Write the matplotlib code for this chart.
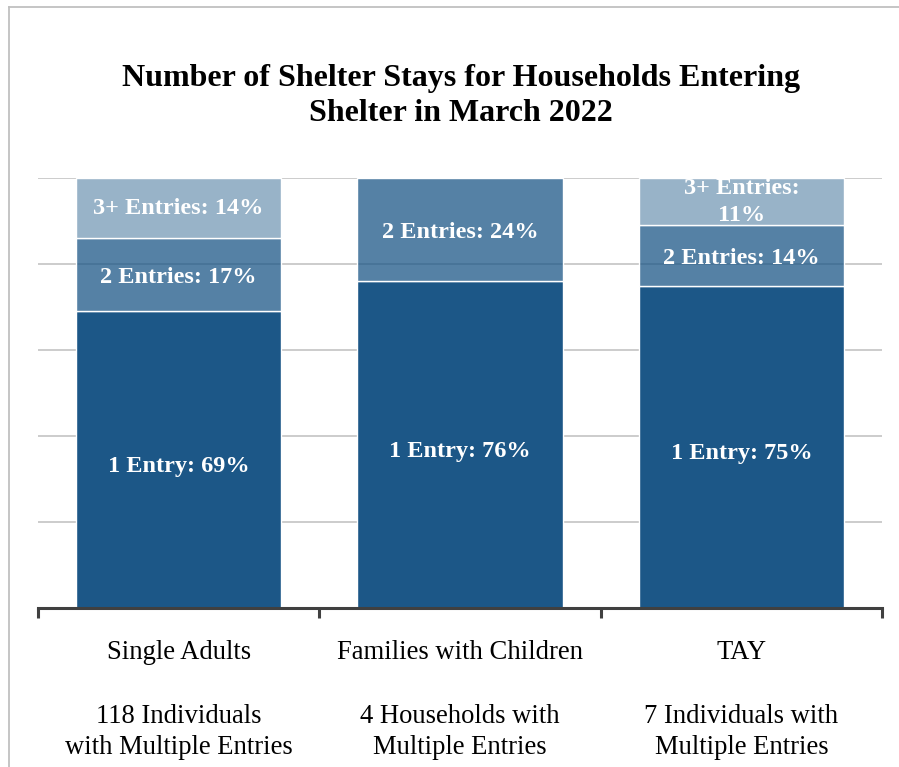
import matplotlib
matplotlib.use("Agg")
import matplotlib.pyplot as plt
from matplotlib.lines import Line2D
import numpy as np

plt.rcParams['font.family'] = ['Liberation Serif', 'DejaVu Serif']

categories = ["Single Adults\n\n118 Individuals\nwith Multiple Entries",
              "Families with Children\n\n4 Households with\nMultiple Entries",
              "TAY\n\n7 Individuals with\nMultiple Entries"]
one_entry = [69, 76, 75]
two_entries = [17, 24, 14]
three_plus = [14, 0, 11]
label_one = ["1 Entry: 69%", "1 Entry: 76%", "1 Entry: 75%"]
label_two = ["2 Entries: 17%", "2 Entries: 24%", "2 Entries: 14%"]
label_three = ["3+ Entries: 14%", "", "3+ Entries:\n11%"]

W, H = 899, 767
fig = plt.figure(figsize=(W / 100, H / 100), dpi=100)
ax = fig.add_axes([38 / W, 1 - 608 / H, (882 - 38) / W, (608 - 178) / H])

base = (28 / 255, 87 / 255, 135 / 255)
c1 = base + (1.0,)
c2 = base + (0.75,)
c3 = base + (0.45,)

x = np.arange(len(categories))
bw = 0.73
one = np.array(one_entry)
two = np.array(two_entries)
three = np.array(three_plus)

ax.bar(x, one, bw, color=c1, edgecolor='white', linewidth=1, zorder=2)
ax.bar(x, two, bw, bottom=one, color=c2, edgecolor='white', linewidth=1, zorder=2)
mask = three > 0
ax.bar(x[mask], three[mask], bw, bottom=(one + two)[mask], color=c3,
       edgecolor='white', linewidth=1, zorder=2)

tkw = dict(ha='center', va='center', color='white', fontweight='bold',
           fontsize=17.5, zorder=3, linespacing=1.4)
for i in range(len(x)):
    ax.text(x[i], one[i] / 2 - 1.5, label_one[i], **tkw)
    ax.text(x[i], one[i] + two[i] / 2 - 0.7, label_two[i], **tkw)
    if three[i] > 0:
        ax.text(x[i], one[i] + two[i] + three[i] / 2 - 0.1, label_three[i], **tkw)

ax.set_xlim(-0.5, 2.5)
ax.set_ylim(0, 100)
ax.set_yticks([20, 40, 60, 80, 100])
ax.yaxis.grid(True, color='#C8C8C8', linewidth=1.3, zorder=0)
ax.set_axisbelow(True)
ax.tick_params(axis='y', left=False, labelleft=False)

ax.set_xticks([-0.5, 0.5, 1.5, 2.5])
ax.set_xticklabels([])
ax.tick_params(axis='x', which='major', direction='out', length=7.5,
               width=2.2, color='#404040')
ax.set_xticks(x, minor=True)
ax.set_xticklabels(categories, minor=True, fontsize=19.2, linespacing=1.36)
ax.tick_params(axis='x', which='minor', length=0, pad=23)

for s in ['left', 'right', 'top']:
    ax.spines[s].set_visible(False)
ax.spines['bottom'].set_color('#404040')
ax.spines['bottom'].set_linewidth(2.2)

fig.text(461 / W, 1 - 96 / H,
         "Number of Shelter Stays for Households Entering\nShelter in March 2022",
         ha='center', va='center', fontsize=23, fontweight='bold',
         linespacing=1.3)

fig.add_artist(Line2D([9 / W, 9 / W], [0, 1 - 7 / H], color='#C0C0C0',
                      linewidth=1.3, transform=fig.transFigure))
fig.add_artist(Line2D([9 / W, 1], [1 - 7 / H, 1 - 7 / H], color='#C0C0C0',
                      linewidth=1.3, transform=fig.transFigure))

fig.savefig("out.png", dpi=100)
